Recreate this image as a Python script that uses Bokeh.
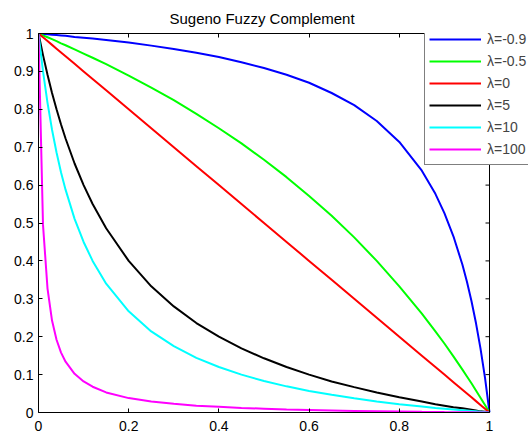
from bokeh.plotting import figure
from bokeh.models import (Range1d, LinearAxis, FixedTicker, Span,
                          CustomJSTickFormatter)
from bokeh.embed import file_html
from bokeh.resources import INLINE

# sample positions (a) and Sugeno complement values
a_vals = [0, 0.01, 0.02, 0.03, 0.04, 0.05, 0.06, 0.08, 0.1, 0.12, 0.15, 0.2, 0.25,
          0.3, 0.35, 0.4, 0.45, 0.5, 0.55, 0.6, 0.65, 0.7, 0.75, 0.8, 0.85, 0.88,
          0.9, 0.92, 0.94, 0.95, 0.96, 0.97, 0.98, 0.99, 1.0]

c_m09 = [1, 0.999, 0.998, 0.997, 0.996, 0.995, 0.994, 0.991, 0.989, 0.987, 0.983,
         0.976, 0.968, 0.959, 0.949, 0.938, 0.924, 0.909, 0.891, 0.870, 0.843, 0.811,
         0.769, 0.714, 0.638, 0.577, 0.526, 0.465, 0.390, 0.345, 0.294, 0.236, 0.169,
         0.092, 0]
c_m05 = [1, 0.995, 0.990, 0.985, 0.980, 0.974, 0.969, 0.958, 0.947, 0.936, 0.919,
         0.889, 0.857, 0.824, 0.788, 0.750, 0.710, 0.667, 0.621, 0.571, 0.519, 0.462,
         0.400, 0.333, 0.261, 0.214, 0.182, 0.148, 0.113, 0.095, 0.077, 0.058, 0.039,
         0.020, 0]
c_0 = [1, 0.99, 0.98, 0.97, 0.96, 0.95, 0.94, 0.92, 0.9, 0.88, 0.85, 0.8, 0.75,
       0.7, 0.65, 0.6, 0.55, 0.5, 0.45, 0.4, 0.35, 0.3, 0.25, 0.2, 0.15, 0.12,
       0.1, 0.08, 0.06, 0.05, 0.04, 0.03, 0.02, 0.01, 0]
c_5 = [1, 0.943, 0.891, 0.843, 0.800, 0.760, 0.723, 0.657, 0.600, 0.550, 0.486,
       0.400, 0.333, 0.280, 0.236, 0.200, 0.169, 0.143, 0.120, 0.100, 0.082, 0.067,
       0.053, 0.040, 0.029, 0.022, 0.018, 0.014, 0.011, 0.009, 0.007, 0.005, 0.003,
       0.002, 0]
c_10 = [1, 0.900, 0.817, 0.746, 0.686, 0.633, 0.588, 0.511, 0.450, 0.400, 0.340,
        0.267, 0.214, 0.175, 0.144, 0.120, 0.100, 0.083, 0.069, 0.057, 0.047, 0.0375,
        0.029, 0.022, 0.016, 0.012, 0.010, 0.008, 0.006, 0.005, 0.004, 0.003, 0.002,
        0.001, 0]
c_100 = [1, 0.495, 0.327, 0.2425, 0.192, 0.158, 0.134, 0.102, 0.082, 0.068, 0.053,
         0.038, 0.029, 0.023, 0.018, 0.015, 0.012, 0.010, 0.008, 0.0066, 0.0053,
         0.0042, 0.0033, 0.0025, 0.0017, 0.0014, 0.0011, 0.0009, 0.0006, 0.0005,
         0.0004, 0.0003, 0.0002, 0.0001, 0]

series_labels = ["λ=-0.9", "λ=-0.5", "λ=0", "λ=5", "λ=10", "λ=100"]
series_values = [c_m09, c_m05, c_0, c_5, c_10, c_100]
series_colors = ["#0000FF", "#00FF00", "#FF0000", "#000000", "#00FFFF", "#FF00FF"]

x_ticks = [0, 0.2, 0.4, 0.6, 0.8, 1]
x_tick_labels = ["0", "0.2", "0.4", "0.6", "0.8", "1"]
y_ticks = [0, 0.1, 0.2, 0.3, 0.4, 0.5, 0.6, 0.7, 0.8, 0.9, 1]
y_tick_labels = ["0", "0.1", "0.2", "0.3", "0.4", "0.5", "0.6", "0.7", "0.8", "0.9", "1"]

FONT = "Liberation Sans"

# layout: axes box 451 px wide starting 38 px from the left; the plotting frame
# runs on to the right edge so the legend can overflow the box as in the original
W, H = 528, 433
LEFT, TOP, BOTTOM = 38, 33, 20
BOX_W = 451
x_end = (W - LEFT) / BOX_W
TICK_LEN_UNITS = 4 / BOX_W

p = figure(width=W, height=H, output_backend="svg", toolbar_location=None,
           x_range=Range1d(0, x_end), y_range=Range1d(0, 1),
           title="Sugeno Fuzzy Complement",
           min_border_left=LEFT, min_border_right=0, min_border_top=TOP,
           min_border_bottom=BOTTOM)
p.background_fill_color = "white"
p.border_fill_color = "white"
p.outline_line_color = None
p.grid.visible = False

p.title.text_font = FONT
p.title.text_font_size = "15px"
p.title.text_font_style = "normal"
p.title.text_color = "black"
p.title.align = "left"
p.title.offset = 131
p.title.standoff = 14

for lab, vals, col in zip(series_labels, series_values, series_colors):
    p.line(a_vals, vals, line_color=col, line_width=2, legend_label=lab)

empty_fmt = CustomJSTickFormatter(code="return ''")


def style_axis(ax, ticks):
    ax.ticker = FixedTicker(ticks=ticks)
    ax.major_tick_in = 4
    ax.major_tick_out = 0
    ax.minor_tick_in = 0
    ax.minor_tick_out = 0
    ax.axis_line_color = "black"
    ax.major_tick_line_color = "black"
    ax.major_label_text_font = FONT
    ax.major_label_text_font_size = "14px"
    ax.major_label_text_color = "black"


xa = p.xaxis[0]
style_axis(xa, x_ticks)
xa.bounds = (0, 1)
xa.major_label_overrides = {t: l for t, l in zip(x_ticks, x_tick_labels)}
xa.major_label_text_line_height = 0.5
xa.major_label_standoff = 8

ya = p.yaxis[0]
style_axis(ya, y_ticks)
ya.major_label_overrides = {t: l for t, l in zip(y_ticks, y_tick_labels)}
ya.major_label_standoff = 5

top_ax = LinearAxis()
style_axis(top_ax, x_ticks)
top_ax.bounds = (0, 1)
top_ax.formatter = empty_fmt
top_ax.major_label_standoff = 0
p.add_layout(top_ax, "above")

# right side of the axes box
p.add_layout(Span(location=1, dimension="height", line_color="black", line_width=1))
p.segment(x0=[1] * len(y_ticks), x1=[1 - TICK_LEN_UNITS] * len(y_ticks),
          y0=y_ticks, y1=y_ticks, line_color="black", line_width=1)

lg = p.legend[0]
lg.location = (386, 247)
lg.label_text_font = FONT
lg.label_text_font_size = "14px"
lg.glyph_width = 52
lg.glyph_height = 22
lg.label_height = 22
lg.label_width = 70
lg.spacing = 0
lg.padding = 4
lg.margin = 0
lg.label_standoff = 6
lg.border_line_color = "black"
lg.border_line_width = 1
lg.background_fill_alpha = 1.0

open("out.html", "w").write(file_html(p, INLINE))
